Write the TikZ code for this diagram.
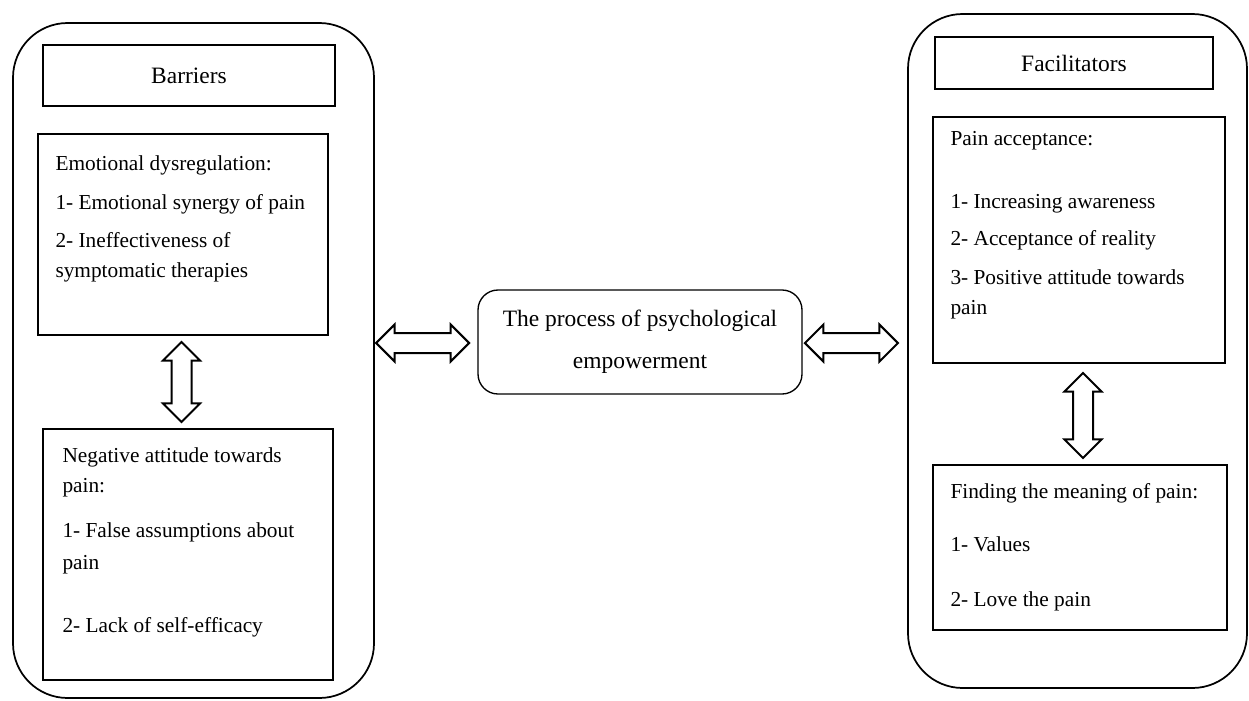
\documentclass[tikz,border=0pt]{standalone}
\usepackage{fontspec}
\setmainfont{Liberation Serif}
\usetikzlibrary{shapes.arrows,calc}

\tikzset{every picture/.style={line width=0.75pt}}

\begin{document}
\begin{tikzpicture}[x=0.75pt,y=0.75pt,yscale=-1,xscale=1,
    panel/.style={draw, line width=1.3pt, rounded corners=41pt, inner sep=0pt},
    box/.style={draw, line width=1pt, inner sep=0pt},
    bodytext/.style={anchor=north west, inner sep=0pt, align=left, font=\fontsize{16}{22.5}\selectfont},
    headtext/.style={font=\fontsize{17.6}{31.5}\selectfont},
    dblarrow/.style={draw, line width=1.5pt, double arrow, double arrow head extend=6.4pt, inner xsep=0pt, inner ysep=6.75pt}]
        %set diagram left start at 0, and has height of 700
        \useasboundingbox (0,0) rectangle (1249,700);

        %Shape: Rounded Rect [left panel]
        \node [panel, minimum width=270.75pt, minimum height=506.25pt] (left) at (193.5,360.5) {};
        %Shape: Rounded Rect [right panel]
        \node [panel, minimum width=254.25pt, minimum height=505.5pt] (right) at (1077.5,351) {};

        %Shape: Rectangle [Barriers]
        \node [box, headtext, minimum width=219pt, minimum height=45.75pt] (barbox) at (189,75.5) {Barriers};
        %Shape: Rectangle
        \node [box, minimum width=217.5pt, minimum height=150.75pt] (emo) at (183,234.5) {};
        %Shape: Rectangle
        \node [box, minimum width=217.5pt, minimum height=188.25pt] (neg) at (188,554.5) {};

        %Shape: Rectangle [Facilitators]
        \node [box, headtext, minimum width=208.5pt, minimum height=39pt] (facbox) at (1074,63) {Facilitators};
        %Shape: Rectangle
        \node [box, minimum width=219pt, minimum height=184.5pt] (pain) at (1079,240) {};
        %Shape: Rectangle
        \node [box, minimum width=220.5pt, minimum height=123.75pt] (find) at (1080,547.5) {};

        %Shape: Rounded Rect [center]
        \node [box, headtext, align=center, rounded corners=15pt, minimum width=243pt, minimum height=78pt] (proc) at (640,342) {The process of psychological\\empowerment};

        % Text Node
        \node [bodytext] (emotxt) at (55,155.5) {Emotional dysregulation:\\[6.75pt]
            1- Emotional synergy of pain\\[6pt]
            2- Ineffectiveness of\\
            symptomatic therapies};
        % Text Node
        \node [bodytext] (negtxt) at (62,447.5) {Negative attitude towards\\
            pain:\\[11.25pt]
            1- False assumptions about\\[1.5pt]
            pain\\[24.75pt]
            2- Lack of self-efficacy};
        % Text Node
        \node [bodytext] (paintxt) at (950,130.5) {Pain acceptance:\\[24.75pt]
            1- Increasing awareness\\[5.25pt]
            2- Acceptance of reality\\[6.75pt]
            3- Positive attitude towards\\
            pain};
        % Text Node
        \node [bodytext] (findtxt) at (950,482.5) {Finding the meaning of pain:\\[17.25pt]
            1- Values\\[18.75pt]
            2- Love the pain};

        %Shape: Double Arrow
        \node [dblarrow, rotate=90, minimum height=60pt] (arrl) at ($(emo.south)!0.5!(neg.north)+(-4,0)$) {};
        %Shape: Double Arrow
        \node [dblarrow, rotate=90, minimum height=63.75pt] (arrr) at ($(pain.south)!0.5!(find.north)+(3.5,1.5)$) {};
        %Shape: Double Arrow
        \node [dblarrow, minimum height=69.75pt] (arrlc) at ($(left.east |- proc.west)!0.5!(proc.west)+(-3.5,1)$) {};
        %Shape: Double Arrow
        \node [dblarrow, minimum height=69.75pt] (arrcr) at ($(proc.east)!0.5!(right.west |- proc.east)+(-3.5,1)$) {};

    \end{tikzpicture}
\end{document}
